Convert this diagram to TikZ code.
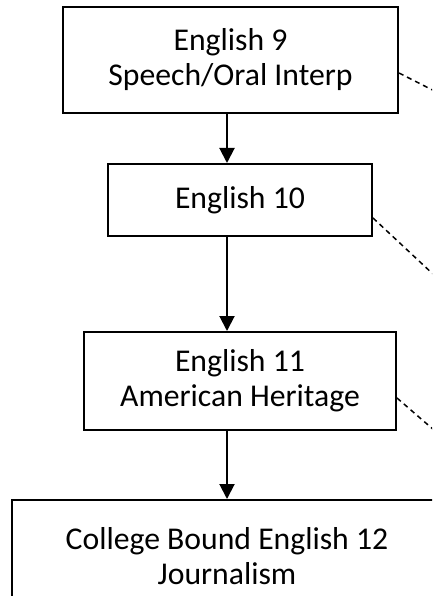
\documentclass[tikz,border=0pt]{standalone}
\usepackage{fontspec}
\setmainfont{Carlito}
\usetikzlibrary{arrows.meta}
\begin{document}
\begin{tikzpicture}[x=1pt,y=1pt,
  box/.style={draw=black, line width=2pt, fill=white, align=center, inner sep=0pt,
    font=\fontsize{31.7}{35}\selectfont},
  flow/.style={line width=2pt, -{Triangle[width=15pt,length=15pt]}},
  callout/.style={line width=1.5pt, dash pattern=on 5pt off 4pt}]
\useasboundingbox (0,0) rectangle (432,-596);
\clip (0,0) rectangle (432,-596);
\node[box, minimum width=335pt, minimum height=106pt] (e9) at (230.5,-60) {English 9\\Speech/Oral Interp};
\node[box, minimum width=264pt, minimum height=72pt] (e10) at (240,-200) {English 10};
\node[box, minimum width=312pt, minimum height=98pt] (e11) at (240,-381) {English 11\\American Heritage};
\node[box, minimum width=430pt, minimum height=130pt] (e12) at (227,-565) {\raisebox{0pt}{}\\[-30pt]College Bound English 12\\Journalism};
\coordinate (ax) at (227,0);
\draw[flow] (e9.south -| ax) -- (e10.north -| ax);
\draw[flow] (e10.south -| ax) -- (e11.north -| ax);
\draw[flow] (e11.south -| ax) -- (e12.north -| ax);
\coordinate (c1) at (460,-104);
\coordinate (c2) at (480,-318);
\coordinate (c3) at (480,-470);
\draw[callout] (e9.east |- 0,-73) -- (c1);
\draw[callout] (e10.east |- 0,-218) -- (c2);
\draw[callout] (e11.east |- 0,-398) -- (c3);
\end{tikzpicture}
\end{document}
